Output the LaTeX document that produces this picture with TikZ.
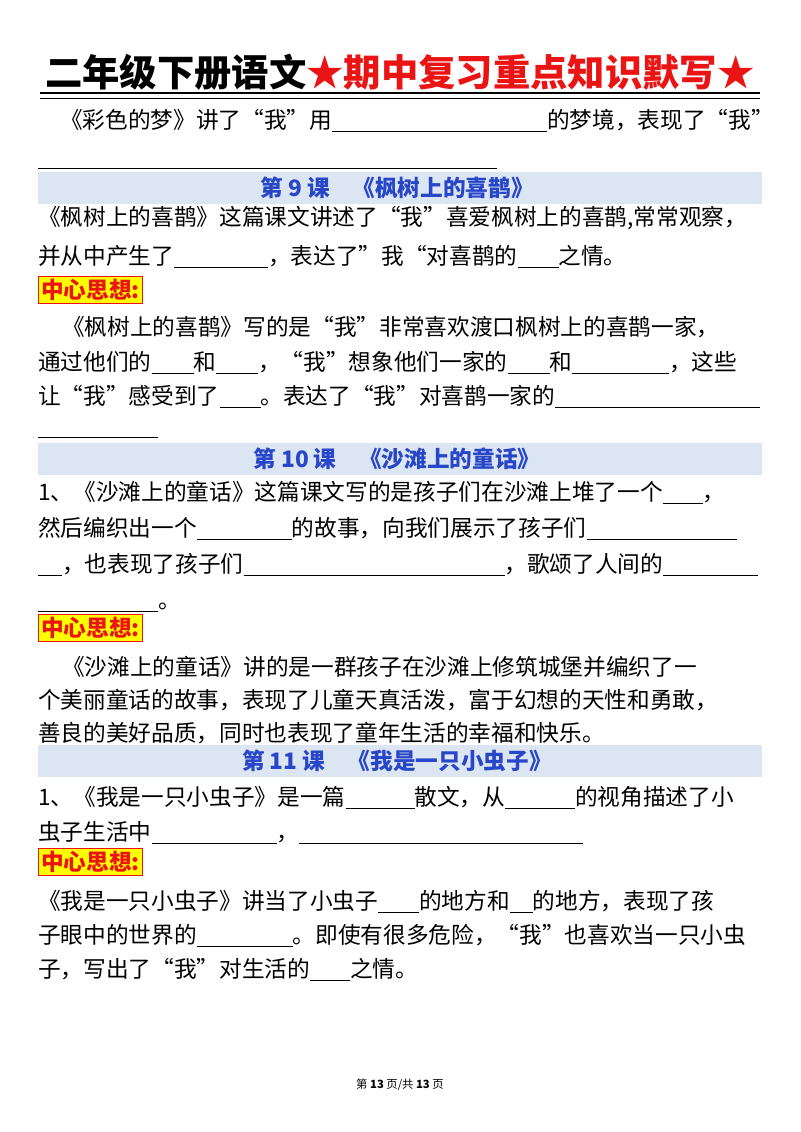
\documentclass[tikz,border=0pt]{standalone}
\usepackage{fontspec}
\setmainfont{Noto Sans CJK SC}
\newlength\px \px=0.75pt
\newcommand{\bl}[1]{\rule[-3pt]{#1\px}{0.7pt}}
\definecolor{band}{RGB}{220,229,242}
\definecolor{bandtxt}{RGB}{40,70,200}
\definecolor{hred}{RGB}{235,20,20}
\definecolor{hyel}{RGB}{255,255,0}
\begin{document}
\begin{tikzpicture}[x=0.75pt,y=-0.75pt,
  ln/.style={anchor=base west,inner sep=0,font=\fontsize{17}{17}\selectfont},
  bandbox/.style={fill=band,draw=none},
  bandlbl/.style={font=\fontsize{17}{17}\selectfont\bfseries,text=bandtxt},
  keybox/.style={draw=hred,fill=hyel,line width=0.8pt,text=hred,font=\fontsize{17}{17}\selectfont\bfseries,inner sep=2pt,anchor=west}]
\useasboundingbox (0,0) rectangle (800,1132);
\node (title) at (400,72) {\fontsize{28}{28}\selectfont\bfseries 二年级下册语文\textcolor{hred}{★期中复习重点知识默写★}};
\draw[line width=2.2pt] (40,93) -- (760,93);
\draw[line width=0.8pt] (40,98.5) -- (760,98.5);
\node[ln] (l1) at (60,128) {《彩色的梦》讲了“我”用\bl{215}的梦境，表现了“我”};
\draw[line width=0.7pt] (38,168) -- (497,168);
% lesson 9
\fill[bandbox] (38,172) rectangle (762,204);
\node[bandlbl] (b9) at (397,188) {第 9 课\quad 《枫树上的喜鹊》};
\node[ln] (a1) at (38,225) {《枫树上的喜鹊》这篇课文讲述了“我”喜爱枫树上的喜鹊,常常观察，};
\node[ln] (a2) at (38,264) {并从中产生了\bl{94}，表达了”我“对喜鹊的\bl{41}之情。};
\node[keybox] (k1) at (38,290) {中心思想:};
\node[ln] (a3) at (62,335) {《枫树上的喜鹊》写的是“我”非常喜欢渡口枫树上的喜鹊一家，};
\node[ln] (a4) at (38,370) {通过他们的\bl{42}和\bl{42}，“我”想象他们一家的\bl{42}和\bl{97}，这些};
\node[ln] (a5) at (38,404) {让“我”感受到了\bl{41}。表达了“我”对喜鹊一家的\bl{205}};
\draw[line width=0.7pt] (38,437) -- (158,437);
% lesson 10
\fill[bandbox] (38,443) rectangle (762,475);
\node[bandlbl] (b10) at (397,459) {第 10 课\quad 《沙滩上的童话》};
\node[ln] (c1) at (38,500) {1、《沙滩上的童话》这篇课文写的是孩子们在沙滩上堆了一个\bl{40}，};
\node[ln] (c2) at (38,536) {然后编织出一个\bl{95}的故事，向我们展示了孩子们\bl{150}};
\node[ln] (c3) at (38,572) {\bl{24}，也表现了孩子们\bl{261}，歌颂了人间的\bl{95}};
\node[ln] (c4) at (38,608) {\bl{120}。};
\node[keybox] (k2) at (38,628) {中心思想:};
\node[ln] (c5) at (62,675) {《沙滩上的童话》讲的是一群孩子在沙滩上修筑城堡并编织了一};
\node[ln] (c6) at (38,708) {个美丽童话的故事，表现了儿童天真活泼，富于幻想的天性和勇敢，};
\node[ln] (c7) at (38,741) {善良的美好品质，同时也表现了童年生活的幸福和快乐。};
% lesson 11
\fill[bandbox] (38,745) rectangle (762,777);
\node[bandlbl] (b11) at (397,761) {第 11 课\quad 《我是一只小虫子》};
\node[ln] (d1) at (38,805) {1、《我是一只小虫子》是一篇\bl{69}散文，从\bl{70}的视角描述了小};
\node[ln] (d2) at (38,840) {虫子生活中\bl{125}，\bl{284}};
\node[keybox] (k3) at (38,862) {中心思想:};
\node[ln] (d3) at (38,909) {《我是一只小虫子》讲当了小虫子\bl{41}的地方和\bl{23}的地方，表现了孩};
\node[ln] (d4) at (38,943) {子眼中的世界的\bl{96}。即使有很多危险，“我”也喜欢当一只小虫};
\node[ln] (d5) at (38,977) {子，写出了“我”对生活的\bl{40}之情。};
\node[font=\fontsize{8.5}{8.5}\selectfont] (foot) at (400,1085) {第 \textbf{13} 页/共 \textbf{13} 页};
\end{tikzpicture}
\end{document}
